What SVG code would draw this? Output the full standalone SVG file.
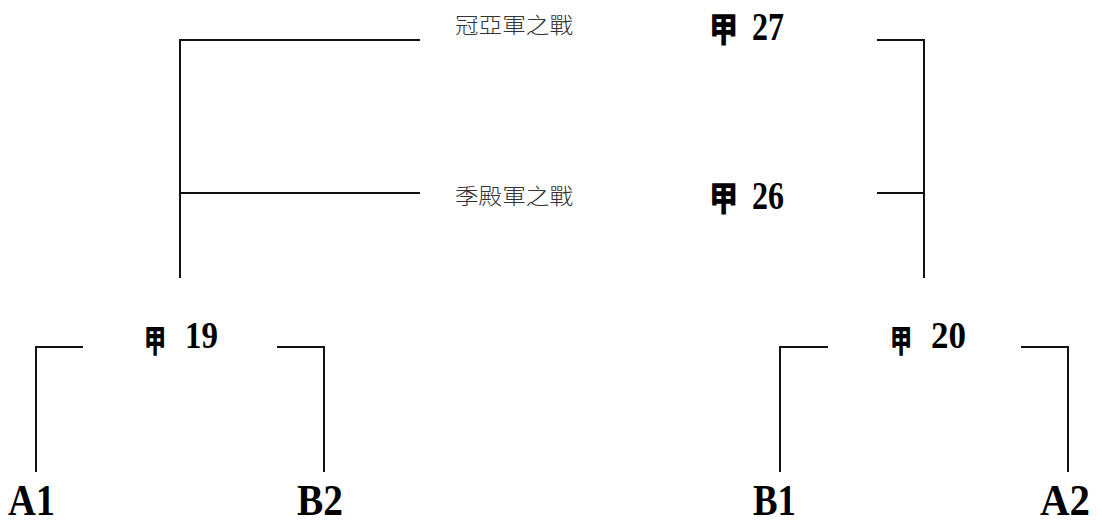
<svg xmlns="http://www.w3.org/2000/svg" width="1102" height="524" viewBox="0 0 1102 524">
<style>
.ln{fill:none;stroke:#111;stroke-width:2;stroke-linecap:butt;stroke-linejoin:miter}
.cjk{font-family:"Noto Sans CJK TC","Noto Sans CJK SC",sans-serif;font-weight:900;fill:#000}
.num{font-family:"Liberation Serif",serif;font-weight:700;fill:#000}
.lbl{font-family:"Noto Sans CJK TC","Noto Sans CJK SC",sans-serif;font-weight:300;font-size:22px;fill:#333}
.team{font-family:"Liberation Serif",serif;font-weight:700;font-size:44px;fill:#000}
</style>
<rect width="1102" height="524" fill="#fff"/>
<g id="connectors">
<polyline class="ln" points="420,40 180,40 180,278"/>
<line class="ln" x1="180" y1="193" x2="420" y2="193"/>
<polyline class="ln" points="877,40 924,40 924,278"/>
<line class="ln" x1="877" y1="193" x2="924" y2="193"/>
<polyline class="ln" points="83,347 36,347 36,472"/>
<polyline class="ln" points="277,347 324,347 324,472"/>
<polyline class="ln" points="828,347 780,347 780,472"/>
<polyline class="ln" points="1021,347 1068,347 1068,472"/>
</g>
<g id="final">
<text class="lbl" x="455" y="33" textLength="118" lengthAdjust="spacingAndGlyphs">冠亞軍之戰</text>
<text class="cjk" x="709" y="42" font-size="34" textLength="29" lengthAdjust="spacingAndGlyphs">甲</text>
<text class="num" x="752" y="40" font-size="41" textLength="32" lengthAdjust="spacingAndGlyphs">27</text>
</g>
<g id="third">
<text class="lbl" x="455" y="204" textLength="118" lengthAdjust="spacingAndGlyphs">季殿軍之戰</text>
<text class="cjk" x="709" y="211" font-size="34" textLength="29" lengthAdjust="spacingAndGlyphs">甲</text>
<text class="num" x="752" y="209" font-size="41" textLength="32" lengthAdjust="spacingAndGlyphs">26</text>
</g>
<g id="m19">
<text class="cjk" x="144" y="352" font-size="31" textLength="22" lengthAdjust="spacingAndGlyphs">甲</text>
<text class="num" x="185" y="348" font-size="37" textLength="33" lengthAdjust="spacingAndGlyphs">19</text>
</g>
<g id="m20">
<text class="cjk" x="890" y="352" font-size="31" textLength="22" lengthAdjust="spacingAndGlyphs">甲</text>
<text class="num" x="931" y="348" font-size="37" textLength="35" lengthAdjust="spacingAndGlyphs">20</text>
</g>
<g id="A1"><text class="team" x="8" y="515" textLength="47" lengthAdjust="spacingAndGlyphs">A1</text></g>
<g id="B2"><text class="team" x="297" y="515" textLength="46" lengthAdjust="spacingAndGlyphs">B2</text></g>
<g id="B1"><text class="team" x="753" y="515" textLength="43" lengthAdjust="spacingAndGlyphs">B1</text></g>
<g id="A2"><text class="team" x="1040" y="515" textLength="50" lengthAdjust="spacingAndGlyphs">A2</text></g>
</svg>
